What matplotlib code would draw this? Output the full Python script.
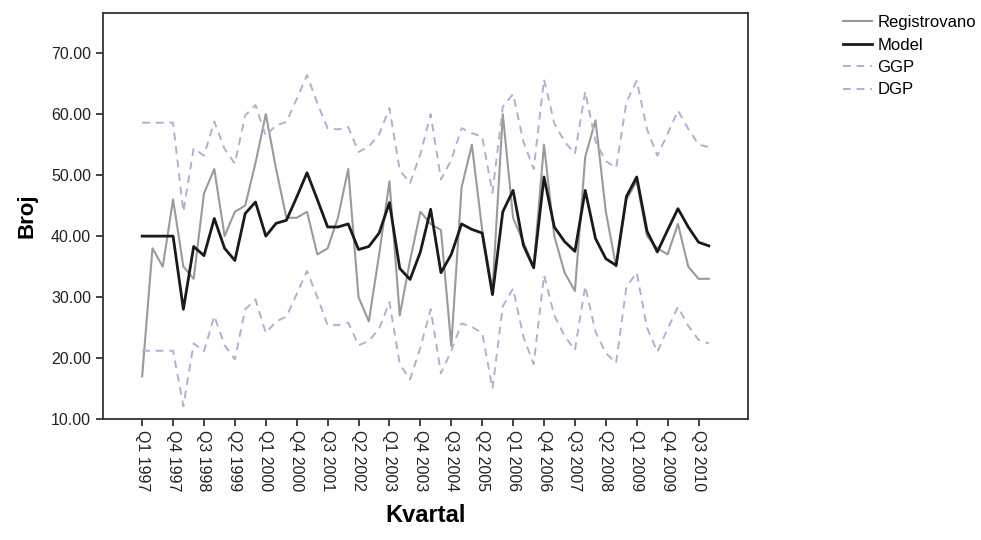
import matplotlib
matplotlib.use("Agg")
import matplotlib.pyplot as plt
from matplotlib.ticker import FormatStrFormatter

plt.rcParams['font.family'] = ['Liberation Sans', 'DejaVu Sans']

# kvartali Q1 1997 .. Q4 2010
godine = list(range(1997, 2011))
kvartali = [f"Q{q} {g}" for g in godine for q in range(1, 5)]

registrovano = [17, 38, 35, 46, 35, 33, 47, 51, 40, 44,
                45, 52, 60, 51, 43, 43, 44, 37, 38, 43,
                51, 30, 26, 37, 49, 27, 36, 44, 42, 41,
                22, 48, 55, 41, 31, 60, 43, 39, 35, 55,
                40, 34, 31, 53, 59, 44, 35, 46, 49, 40,
                38, 37, 42, 35, 33, 33]

model = [40.0, 40.0, 40.0, 40.0, 28.0, 38.3, 36.8, 42.9, 38.0, 36.0,
         43.7, 45.6, 40.0, 42.1, 42.6, 46.4, 50.4, 46.0, 41.5, 41.5,
         42.0, 37.8, 38.3, 40.5, 45.5, 34.7, 32.9, 37.4, 44.4, 34.0,
         37.0, 42.0, 41.1, 40.5, 30.4, 44.0, 47.5, 38.5, 34.8, 49.7,
         41.5, 39.1, 37.5, 47.5, 39.6, 36.3, 35.2, 46.5, 49.7, 40.8,
         37.4, 41.0, 44.5, 41.5, 39.0, 38.4]

ggp = [58.6, 58.6, 58.6, 58.6, 44.0, 54.4, 53.2, 58.8, 54.3, 51.9,
       59.8, 61.5, 56.4, 58.2, 58.7, 62.5, 66.4, 61.8, 57.7, 57.5,
       57.9, 53.8, 54.7, 56.7, 61.0, 50.8, 48.7, 53.4, 60.0, 49.3,
       52.5, 57.7, 56.9, 56.3, 47.1, 61.2, 63.3, 55.5, 51.0, 65.7,
       58.5, 55.5, 53.5, 63.7, 55.5, 52.3, 51.2, 62.0, 65.5, 57.5,
       53.2, 56.8, 60.6, 57.6, 55.0, 54.6]

dgp = [21.2, 21.2, 21.2, 21.2, 12.1, 22.4, 21.1, 26.9, 22.1, 19.8,
       28.0, 29.6, 24.1, 26.0, 26.8, 30.5, 34.3, 30.0, 25.4, 25.4,
       25.8, 22.1, 22.8, 24.8, 29.2, 19.0, 16.5, 21.7, 28.0, 17.5,
       21.2, 25.7, 25.1, 24.1, 15.0, 28.5, 31.4, 23.5, 19.0, 33.6,
       27.0, 23.6, 21.3, 31.8, 24.3, 20.8, 19.2, 31.7, 34.0, 25.0,
       21.0, 24.8, 28.4, 25.3, 23.0, 22.4]

x = list(range(len(kvartali)))

fig = plt.figure(figsize=(9.81, 5.40), dpi=100)
ax = fig.add_axes([0.105, 0.224, 0.6575, 0.752])

ljubicasta = '#b9abd3'
ax.plot(x, registrovano, color='#9a9a9a', linewidth=1.5, label='Registrovano')
ax.plot(x, model, color='#1a1a1a', linewidth=2.0, label='Model')
ax.plot(x, ggp, color=ljubicasta, linewidth=1.4, linestyle=(0, (4, 3)), label='GGP')
ax.plot(x, dgp, color=ljubicasta, linewidth=1.4, linestyle=(0, (4, 3)), label='DGP')

ax.set_xlim(-3.8, 58.8)
ax.set_ylim(10, 76.6)
ax.set_yticks([10, 20, 30, 40, 50, 60, 70])
ax.yaxis.set_major_formatter(FormatStrFormatter('%.2f'))
ax.set_xticks(x[::3])
ax.set_xticklabels(kvartali[::3], rotation=270, va='top', ha='center')

ax.tick_params(axis='both', direction='out', length=5, width=1.2,
               labelsize=11.5, colors='#222222', labelcolor='#222222')
ax.tick_params(axis='x', pad=3)
for s in ax.spines.values():
    s.set_linewidth(1.3)
    s.set_color('#333333')

ax.set_ylabel('Broj', fontsize=16, fontweight='bold', labelpad=10)
ax.set_xlabel('Kvartal', fontsize=17, fontweight='bold', labelpad=9)

fig.legend(loc='upper left', bbox_to_anchor=(843 / 981, 1 - 15 / 540),
           frameon=False, fontsize=12, handlelength=1.75, handletextpad=0.3,
           labelspacing=0.45, borderaxespad=0, borderpad=0)

fig.savefig('out.png', dpi=100)
